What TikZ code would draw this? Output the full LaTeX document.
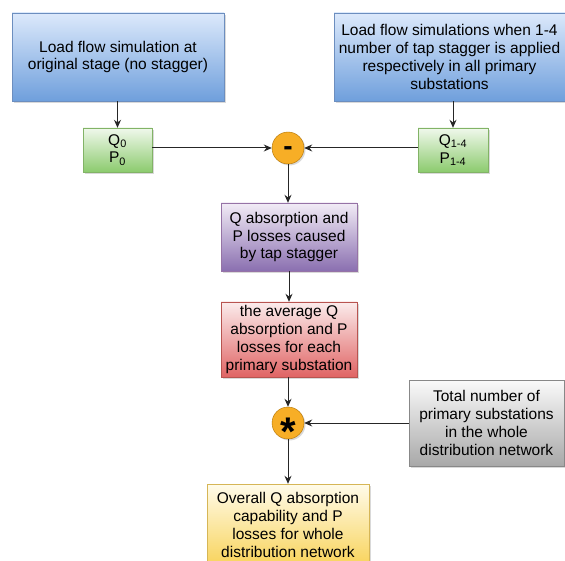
\documentclass[tikz,border=0pt]{standalone}
\usepackage{fontspec}
\setmainfont{Liberation Sans}
\usetikzlibrary{shadows,arrows.meta}
\definecolor{blueTop}{HTML}{DCE9FB}
\definecolor{blueBot}{HTML}{6F9FDC}
\definecolor{blueLine}{HTML}{6C8EBF}
\definecolor{greenTop}{HTML}{F0F8EC}
\definecolor{greenBot}{HTML}{8CCB6E}
\definecolor{greenLine}{HTML}{82B366}
\definecolor{purpleTop}{HTML}{F2ECF6}
\definecolor{purpleBot}{HTML}{8A6FB0}
\definecolor{purpleLine}{HTML}{9673A6}
\definecolor{redTop}{HTML}{FBECEC}
\definecolor{redBot}{HTML}{E06464}
\definecolor{redLine}{HTML}{B85450}
\definecolor{yellowTop}{HTML}{FFFBEA}
\definecolor{yellowBot}{HTML}{F8D35A}
\definecolor{yellowLine}{HTML}{D6B656}
\definecolor{greyTop}{HTML}{FAFAFA}
\definecolor{greyBot}{HTML}{A8A8A8}
\definecolor{greyLine}{HTML}{888888}
\definecolor{opFill}{HTML}{F7AE26}
\definecolor{opLine}{HTML}{B07000}
\definecolor{linkGrey}{HTML}{262626}
\begin{document}
\begin{tikzpicture}[x=1pt,y=-1pt,
    flowbox/.style={rectangle, thin, align=center, inner sep=2pt,
      font=\fontsize{15.5}{17.7}\selectfont,
      drop shadow={shadow xshift=2pt,shadow yshift=-2pt,opacity=0.3}},
    opnode/.style={circle, draw=opLine, fill=opFill, minimum size=32pt,
      inner sep=0pt, font=\bfseries,
      drop shadow={shadow xshift=1.5pt,shadow yshift=-1.5pt,opacity=0.3}},
    link/.style={-{Stealth[length=8pt,width=7pt]}, linkGrey, line width=1pt}]
  \useasboundingbox (0,0) rectangle (565,561);
  % input simulations
  \node[flowbox, top color=blueTop, bottom color=blueBot, draw=blueLine,
    minimum width=212pt, minimum height=88pt] (loadOrig) at (118,57)
    {Load flow simulation at\\original stage (no stagger)};
  \node[flowbox, top color=blueTop, bottom color=blueBot, draw=blueLine,
    minimum width=231pt, minimum height=88pt] (loadStag) at (449.5,57)
    {Load flow simulations when 1-4\\number of tap stagger is applied\\respectively in all primary\\substations};
  \node[flowbox, top color=greenTop, bottom color=greenBot, draw=greenLine,
    minimum width=69pt, minimum height=44pt] (pqOrig) at (117.5,150)
    {Q\textsubscript{0}\\P\textsubscript{0}};
  \node[flowbox, top color=greenTop, bottom color=greenBot, draw=greenLine,
    minimum width=70pt, minimum height=44pt] (pqStag) at (453,150)
    {Q\textsubscript{1-4}\\P\textsubscript{1-4}};
  \node[opnode] (minus) at (288,148)
    {\fontsize{28}{28}\selectfont\raisebox{-0.28em}[0pt][0pt]{-}};
  % results
  \node[flowbox, top color=purpleTop, bottom color=purpleBot, draw=purpleLine,
    minimum width=136pt, minimum height=68pt] (qpDiff) at (289,237)
    {Q absorption and\\P losses caused\\by tap stagger};
  \node[flowbox, top color=redTop, bottom color=redBot, draw=redLine,
    minimum width=136pt, minimum height=75pt] (qpAvg) at (289,339.5)
    {the average Q\\absorption and P\\losses for each\\primary substation};
  \node[opnode] (times) at (288,423)
    {\fontsize{40}{40}\selectfont\raisebox{-0.57em}[0pt][0pt]{*}};
  \node[flowbox, top color=greyTop, bottom color=greyBot, draw=greyLine,
    minimum width=155pt, minimum height=86pt] (numPS) at (486.5,423)
    {Total number of\\primary substations\\in the whole\\distribution network};
  \node[flowbox, top color=yellowTop, bottom color=yellowBot, draw=yellowLine,
    minimum width=162pt, minimum height=82pt] (overall) at (288,525)
    {Overall Q absorption\\capability and P\\losses for whole\\distribution network};
  % connectors
  \draw[link] (pqOrig |- loadOrig.south) -- (pqOrig);
  \draw[link] (pqStag |- loadStag.south) -- (pqStag);
  \draw[link] (pqOrig.east |- minus) -- (minus);
  \draw[link] (pqStag.west |- minus) -- (minus);
  \draw[link] (minus) -- (minus |- qpDiff.north);
  \draw[link] (qpDiff) -- (qpAvg);
  \draw[link] (qpAvg.south -| times) -- (times);
  \draw[link] (numPS) -- (times);
  \draw[link] (times) -- (overall);
\end{tikzpicture}
\end{document}
